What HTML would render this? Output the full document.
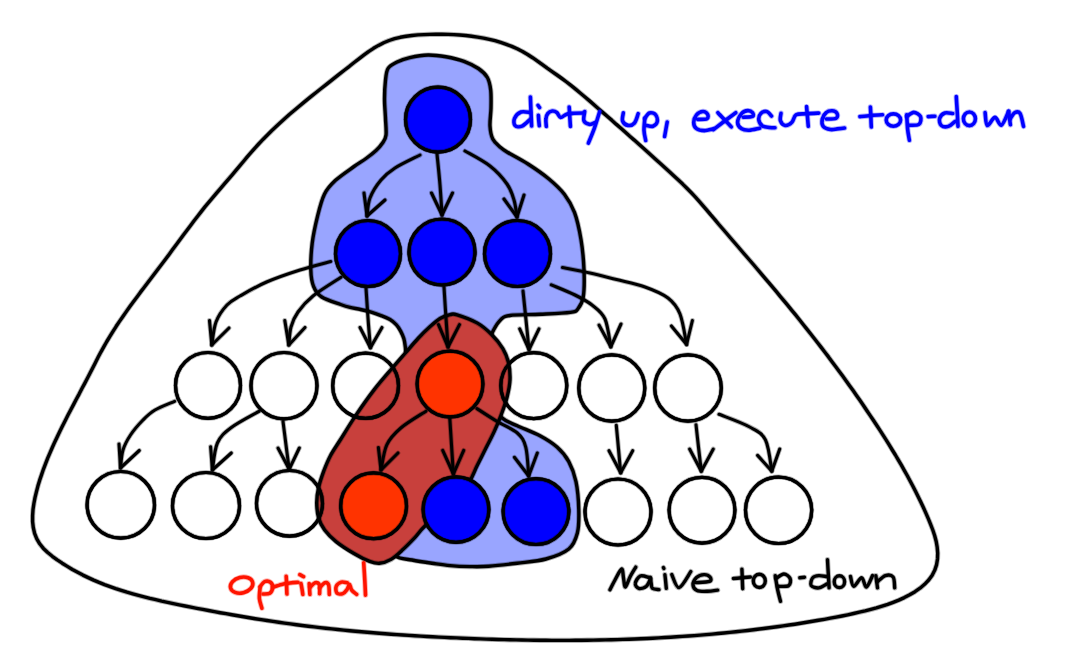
<!DOCTYPE html>
<html><head><meta charset="utf-8"><style>
html,body{margin:0;padding:0;background:#fff;width:1072px;height:664px;overflow:hidden}
svg{display:block}
.wrap{width:1072px;height:664px}
</style></head><body>
<div class="wrap">
<svg width="1072" height="664" viewBox="0 0 1072 664">
<rect width="1072" height="664" fill="#fff"/>
<path d="M429.9,34.4 L435.9,34.3 L441.9,34.3 L447.9,34.4 L453.9,34.6 L459.9,35.0 L465.8,35.5 L471.7,36.2 L477.6,37.1 L483.5,38.1 L489.3,39.3 L495.0,40.7 L500.7,42.4 L506.3,44.3 L511.8,46.4 L517.2,48.8 L522.5,51.5 L527.6,54.5 L532.6,57.7 L537.5,61.1 L542.4,64.7 L547.2,68.2 L552.1,71.6 L557.0,75.0 L561.9,78.5 L566.6,82.0 L571.3,85.7 L575.9,89.4 L580.5,93.2 L585.0,97.0 L589.6,100.9 L594.0,104.8 L598.5,108.7 L603.0,112.6 L607.5,116.5 L612.0,120.4 L616.4,124.4 L620.9,128.3 L625.4,132.2 L629.8,136.2 L634.3,140.1 L638.7,144.1 L643.2,148.1 L647.6,152.0 L652.0,156.0 L656.4,160.0 L660.9,164.0 L665.3,168.0 L669.7,172.0 L674.0,176.0 L678.4,180.0 L682.7,184.1 L686.9,188.3 L691.1,192.5 L695.2,196.8 L699.2,201.3 L703.1,205.8 L707.0,210.3 L710.8,214.9 L714.7,219.4 L718.5,224.0 L722.4,228.5 L726.3,233.0 L730.1,237.5 L734.0,242.0 L737.9,246.5 L741.7,251.0 L745.6,255.5 L749.5,260.0 L753.4,264.5 L757.2,269.0 L761.1,273.6 L764.9,278.1 L768.8,282.6 L772.6,287.1 L776.4,291.7 L780.2,296.3 L784.0,300.8 L787.8,305.4 L791.6,310.1 L795.4,314.7 L799.1,319.3 L802.8,324.0 L806.5,328.6 L810.2,333.3 L813.9,338.0 L817.6,342.7 L821.2,347.4 L824.9,352.2 L828.5,356.9 L832.0,361.7 L835.6,366.5 L839.1,371.3 L842.7,376.1 L846.2,380.9 L849.6,385.7 L853.1,390.6 L856.5,395.5 L859.9,400.3 L863.3,405.2 L866.6,410.2 L869.9,415.1 L873.2,420.0 L876.5,425.0 L879.7,429.9 L882.9,434.9 L886.1,439.9 L889.2,444.9 L892.3,450.0 L895.4,455.0 L898.4,460.1 L901.4,465.2 L904.3,470.4 L907.2,475.5 L910.0,480.8 L912.8,486.0 L915.5,491.3 L918.2,496.7 L920.8,502.1 L923.4,507.6 L925.9,513.1 L928.3,518.7 L930.6,524.3 L932.8,530.0 L934.7,535.8 L936.2,541.5 L937.2,547.3 L937.7,553.1 L937.5,558.9 L936.6,564.6 L934.8,570.1 L932.2,575.2 L928.7,580.0 L924.6,584.3 L920.0,588.2 L915.0,591.7 L909.7,594.8 L904.3,597.6 L898.8,600.1 L893.2,602.3 L887.7,604.4 L882.1,606.2 L876.4,607.9 L870.8,609.4 L865.1,610.9 L859.3,612.2 L853.6,613.5 L847.8,614.8 L842.0,616.0 L836.1,617.1 L830.3,618.2 L824.4,619.3 L818.5,620.3 L812.6,621.3 L806.7,622.3 L800.8,623.3 L794.9,624.2 L789.0,625.0 L783.1,625.9 L777.2,626.7 L771.3,627.5 L765.3,628.3 L759.4,629.0 L753.5,629.8 L747.6,630.5 L741.7,631.1 L735.8,631.8 L729.8,632.4 L723.9,633.0 L718.0,633.5 L712.1,634.1 L706.1,634.6 L700.2,635.1 L694.3,635.6 L688.4,636.0 L682.4,636.4 L676.5,636.8 L670.6,637.2 L664.6,637.5 L658.7,637.9 L652.8,638.2 L646.8,638.5 L640.9,638.7 L635.0,639.0 L629.0,639.2 L623.1,639.4 L617.1,639.6 L611.2,639.8 L605.3,639.9 L599.3,640.0 L593.4,640.1 L587.4,640.2 L581.5,640.3 L575.5,640.3 L569.6,640.4 L563.6,640.4 L557.7,640.4 L551.8,640.4 L545.8,640.3 L539.9,640.3 L533.9,640.2 L528.0,640.1 L522.0,640.0 L516.1,639.9 L510.1,639.8 L504.2,639.6 L498.2,639.5 L492.3,639.3 L486.3,639.1 L480.4,638.9 L474.4,638.7 L468.4,638.4 L462.5,638.2 L456.5,637.9 L450.6,637.7 L444.6,637.4 L438.7,637.1 L432.7,636.8 L426.8,636.5 L420.8,636.1 L414.9,635.8 L408.9,635.4 L403.0,635.0 L397.0,634.6 L391.1,634.2 L385.1,633.7 L379.2,633.3 L373.3,632.8 L367.3,632.3 L361.4,631.8 L355.5,631.3 L349.6,630.7 L343.6,630.1 L337.7,629.5 L331.8,628.9 L325.9,628.3 L320.0,627.6 L314.1,626.9 L308.2,626.2 L302.3,625.5 L296.4,624.7 L290.5,623.9 L284.6,623.1 L278.8,622.3 L272.9,621.4 L267.0,620.5 L261.2,619.6 L255.3,618.7 L249.5,617.7 L243.6,616.8 L237.8,615.8 L231.9,614.8 L226.1,613.7 L220.2,612.7 L214.4,611.6 L208.5,610.5 L202.7,609.4 L196.8,608.3 L190.9,607.1 L185.1,606.0 L179.2,604.8 L173.4,603.6 L167.5,602.3 L161.7,601.1 L155.8,599.7 L150.0,598.4 L144.2,596.9 L138.5,595.4 L132.7,593.8 L127.0,592.2 L121.3,590.4 L115.7,588.6 L110.1,586.6 L104.5,584.6 L99.0,582.4 L93.6,580.1 L88.2,577.6 L82.9,575.1 L77.6,572.3 L72.4,569.5 L67.3,566.4 L62.2,563.2 L57.2,559.9 L52.3,556.3 L47.7,552.5 L43.4,548.4 L39.7,543.8 L36.8,538.9 L34.6,533.4 L33.3,527.7 L32.6,521.7 L32.6,515.7 L33.0,509.6 L33.9,503.5 L35.0,497.6 L36.4,491.8 L37.9,486.1 L39.6,480.4 L41.5,474.9 L43.4,469.3 L45.5,463.8 L47.7,458.2 L50.0,452.8 L52.4,447.3 L54.8,441.9 L57.4,436.5 L60.0,431.1 L62.6,425.7 L65.3,420.4 L68.0,415.1 L70.8,409.8 L73.5,404.6 L76.3,399.3 L79.1,394.1 L81.8,388.8 L84.6,383.6 L87.4,378.3 L90.1,373.0 L92.8,367.8 L95.5,362.4 L98.2,357.1 L101.0,351.8 L103.9,346.6 L106.8,341.5 L109.9,336.4 L113.0,331.3 L116.2,326.3 L119.5,321.4 L122.9,316.5 L126.3,311.6 L129.7,306.8 L133.2,302.0 L136.8,297.2 L140.3,292.4 L143.9,287.7 L147.5,282.9 L151.1,278.2 L154.7,273.4 L158.3,268.7 L161.9,264.0 L165.5,259.2 L169.1,254.4 L172.6,249.6 L176.2,244.8 L179.7,240.0 L183.2,235.2 L186.8,230.5 L190.4,225.7 L193.9,221.0 L197.6,216.3 L201.2,211.6 L204.9,206.9 L208.7,202.4 L212.5,197.8 L216.3,193.3 L220.2,188.8 L224.0,184.3 L227.9,179.8 L231.8,175.3 L235.7,170.7 L239.5,166.1 L243.4,161.5 L247.2,156.9 L251.1,152.4 L255.1,147.9 L259.1,143.5 L263.2,139.2 L267.4,135.0 L271.6,130.8 L275.9,126.7 L280.2,122.7 L284.6,118.8 L289.0,114.8 L293.5,111.0 L298.0,107.2 L302.6,103.4 L307.2,99.6 L311.8,95.9 L316.4,92.2 L321.1,88.5 L325.8,84.8 L330.5,81.1 L335.2,77.4 L339.9,73.7 L344.6,70.0 L349.4,66.3 L354.1,62.5 L358.9,58.8 L363.7,55.1 L368.5,51.6 L373.5,48.3 L378.5,45.4 L383.7,42.7 L389.1,40.5 L394.6,38.7 L400.3,37.3 L406.1,36.3 L411.9,35.5 L417.9,34.9 L423.9,34.6 Z" fill="none" stroke="#000" stroke-opacity="0.3" stroke-width="5.2" stroke-linejoin="round"/>
<path d="M429.9,34.4 L435.9,34.3 L441.9,34.3 L447.9,34.4 L453.9,34.6 L459.9,35.0 L465.8,35.5 L471.7,36.2 L477.6,37.1 L483.5,38.1 L489.3,39.3 L495.0,40.7 L500.7,42.4 L506.3,44.3 L511.8,46.4 L517.2,48.8 L522.5,51.5 L527.6,54.5 L532.6,57.7 L537.5,61.1 L542.4,64.7 L547.2,68.2 L552.1,71.6 L557.0,75.0 L561.9,78.5 L566.6,82.0 L571.3,85.7 L575.9,89.4 L580.5,93.2 L585.0,97.0 L589.6,100.9 L594.0,104.8 L598.5,108.7 L603.0,112.6 L607.5,116.5 L612.0,120.4 L616.4,124.4 L620.9,128.3 L625.4,132.2 L629.8,136.2 L634.3,140.1 L638.7,144.1 L643.2,148.1 L647.6,152.0 L652.0,156.0 L656.4,160.0 L660.9,164.0 L665.3,168.0 L669.7,172.0 L674.0,176.0 L678.4,180.0 L682.7,184.1 L686.9,188.3 L691.1,192.5 L695.2,196.8 L699.2,201.3 L703.1,205.8 L707.0,210.3 L710.8,214.9 L714.7,219.4 L718.5,224.0 L722.4,228.5 L726.3,233.0 L730.1,237.5 L734.0,242.0 L737.9,246.5 L741.7,251.0 L745.6,255.5 L749.5,260.0 L753.4,264.5 L757.2,269.0 L761.1,273.6 L764.9,278.1 L768.8,282.6 L772.6,287.1 L776.4,291.7 L780.2,296.3 L784.0,300.8 L787.8,305.4 L791.6,310.1 L795.4,314.7 L799.1,319.3 L802.8,324.0 L806.5,328.6 L810.2,333.3 L813.9,338.0 L817.6,342.7 L821.2,347.4 L824.9,352.2 L828.5,356.9 L832.0,361.7 L835.6,366.5 L839.1,371.3 L842.7,376.1 L846.2,380.9 L849.6,385.7 L853.1,390.6 L856.5,395.5 L859.9,400.3 L863.3,405.2 L866.6,410.2 L869.9,415.1 L873.2,420.0 L876.5,425.0 L879.7,429.9 L882.9,434.9 L886.1,439.9 L889.2,444.9 L892.3,450.0 L895.4,455.0 L898.4,460.1 L901.4,465.2 L904.3,470.4 L907.2,475.5 L910.0,480.8 L912.8,486.0 L915.5,491.3 L918.2,496.7 L920.8,502.1 L923.4,507.6 L925.9,513.1 L928.3,518.7 L930.6,524.3 L932.8,530.0 L934.7,535.8 L936.2,541.5 L937.2,547.3 L937.7,553.1 L937.5,558.9 L936.6,564.6 L934.8,570.1 L932.2,575.2 L928.7,580.0 L924.6,584.3 L920.0,588.2 L915.0,591.7 L909.7,594.8 L904.3,597.6 L898.8,600.1 L893.2,602.3 L887.7,604.4 L882.1,606.2 L876.4,607.9 L870.8,609.4 L865.1,610.9 L859.3,612.2 L853.6,613.5 L847.8,614.8 L842.0,616.0 L836.1,617.1 L830.3,618.2 L824.4,619.3 L818.5,620.3 L812.6,621.3 L806.7,622.3 L800.8,623.3 L794.9,624.2 L789.0,625.0 L783.1,625.9 L777.2,626.7 L771.3,627.5 L765.3,628.3 L759.4,629.0 L753.5,629.8 L747.6,630.5 L741.7,631.1 L735.8,631.8 L729.8,632.4 L723.9,633.0 L718.0,633.5 L712.1,634.1 L706.1,634.6 L700.2,635.1 L694.3,635.6 L688.4,636.0 L682.4,636.4 L676.5,636.8 L670.6,637.2 L664.6,637.5 L658.7,637.9 L652.8,638.2 L646.8,638.5 L640.9,638.7 L635.0,639.0 L629.0,639.2 L623.1,639.4 L617.1,639.6 L611.2,639.8 L605.3,639.9 L599.3,640.0 L593.4,640.1 L587.4,640.2 L581.5,640.3 L575.5,640.3 L569.6,640.4 L563.6,640.4 L557.7,640.4 L551.8,640.4 L545.8,640.3 L539.9,640.3 L533.9,640.2 L528.0,640.1 L522.0,640.0 L516.1,639.9 L510.1,639.8 L504.2,639.6 L498.2,639.5 L492.3,639.3 L486.3,639.1 L480.4,638.9 L474.4,638.7 L468.4,638.4 L462.5,638.2 L456.5,637.9 L450.6,637.7 L444.6,637.4 L438.7,637.1 L432.7,636.8 L426.8,636.5 L420.8,636.1 L414.9,635.8 L408.9,635.4 L403.0,635.0 L397.0,634.6 L391.1,634.2 L385.1,633.7 L379.2,633.3 L373.3,632.8 L367.3,632.3 L361.4,631.8 L355.5,631.3 L349.6,630.7 L343.6,630.1 L337.7,629.5 L331.8,628.9 L325.9,628.3 L320.0,627.6 L314.1,626.9 L308.2,626.2 L302.3,625.5 L296.4,624.7 L290.5,623.9 L284.6,623.1 L278.8,622.3 L272.9,621.4 L267.0,620.5 L261.2,619.6 L255.3,618.7 L249.5,617.7 L243.6,616.8 L237.8,615.8 L231.9,614.8 L226.1,613.7 L220.2,612.7 L214.4,611.6 L208.5,610.5 L202.7,609.4 L196.8,608.3 L190.9,607.1 L185.1,606.0 L179.2,604.8 L173.4,603.6 L167.5,602.3 L161.7,601.1 L155.8,599.7 L150.0,598.4 L144.2,596.9 L138.5,595.4 L132.7,593.8 L127.0,592.2 L121.3,590.4 L115.7,588.6 L110.1,586.6 L104.5,584.6 L99.0,582.4 L93.6,580.1 L88.2,577.6 L82.9,575.1 L77.6,572.3 L72.4,569.5 L67.3,566.4 L62.2,563.2 L57.2,559.9 L52.3,556.3 L47.7,552.5 L43.4,548.4 L39.7,543.8 L36.8,538.9 L34.6,533.4 L33.3,527.7 L32.6,521.7 L32.6,515.7 L33.0,509.6 L33.9,503.5 L35.0,497.6 L36.4,491.8 L37.9,486.1 L39.6,480.4 L41.5,474.9 L43.4,469.3 L45.5,463.8 L47.7,458.2 L50.0,452.8 L52.4,447.3 L54.8,441.9 L57.4,436.5 L60.0,431.1 L62.6,425.7 L65.3,420.4 L68.0,415.1 L70.8,409.8 L73.5,404.6 L76.3,399.3 L79.1,394.1 L81.8,388.8 L84.6,383.6 L87.4,378.3 L90.1,373.0 L92.8,367.8 L95.5,362.4 L98.2,357.1 L101.0,351.8 L103.9,346.6 L106.8,341.5 L109.9,336.4 L113.0,331.3 L116.2,326.3 L119.5,321.4 L122.9,316.5 L126.3,311.6 L129.7,306.8 L133.2,302.0 L136.8,297.2 L140.3,292.4 L143.9,287.7 L147.5,282.9 L151.1,278.2 L154.7,273.4 L158.3,268.7 L161.9,264.0 L165.5,259.2 L169.1,254.4 L172.6,249.6 L176.2,244.8 L179.7,240.0 L183.2,235.2 L186.8,230.5 L190.4,225.7 L193.9,221.0 L197.6,216.3 L201.2,211.6 L204.9,206.9 L208.7,202.4 L212.5,197.8 L216.3,193.3 L220.2,188.8 L224.0,184.3 L227.9,179.8 L231.8,175.3 L235.7,170.7 L239.5,166.1 L243.4,161.5 L247.2,156.9 L251.1,152.4 L255.1,147.9 L259.1,143.5 L263.2,139.2 L267.4,135.0 L271.6,130.8 L275.9,126.7 L280.2,122.7 L284.6,118.8 L289.0,114.8 L293.5,111.0 L298.0,107.2 L302.6,103.4 L307.2,99.6 L311.8,95.9 L316.4,92.2 L321.1,88.5 L325.8,84.8 L330.5,81.1 L335.2,77.4 L339.9,73.7 L344.6,70.0 L349.4,66.3 L354.1,62.5 L358.9,58.8 L363.7,55.1 L368.5,51.6 L373.5,48.3 L378.5,45.4 L383.7,42.7 L389.1,40.5 L394.6,38.7 L400.3,37.3 L406.1,36.3 L411.9,35.5 L417.9,34.9 L423.9,34.6 Z" fill="none" stroke="#000" stroke-width="3.4" stroke-linejoin="round"/>
<path d="M428.0,55.0 C434.1,54.9 440.0,55.7 446.0,56.7 C452.0,57.8 458.6,59.3 464.0,61.3 C469.4,63.3 474.5,65.8 478.4,68.5 C482.3,71.2 485.3,73.9 487.4,77.5 C489.4,81.1 490.1,84.9 490.7,90.0 C491.3,95.1 491.1,102.0 491.0,108.0 C490.9,114.0 489.7,120.8 490.0,126.0 C490.3,131.2 491.1,135.5 492.8,139.0 C494.5,142.5 497.6,144.8 500.0,147.0 C502.4,149.2 502.3,149.2 507.0,152.0 C511.7,154.8 521.0,159.5 528.0,164.0 C535.0,168.5 542.9,173.9 549.0,179.0 C555.1,184.1 560.1,188.7 564.4,194.3 C568.6,199.9 571.7,204.9 574.5,212.4 C577.3,219.9 579.4,230.0 581.0,239.5 C582.6,249.0 583.6,260.1 584.0,269.6 C584.4,279.2 584.3,290.3 583.3,296.8 C582.3,303.3 580.1,306.2 578.0,308.8 C575.9,311.4 576.7,311.5 570.4,312.4 C564.1,313.3 550.4,313.8 540.3,314.3 C530.2,314.8 516.5,314.6 510.0,315.5 C503.4,316.4 503.7,317.0 501.0,319.4 C498.3,321.8 495.4,326.6 493.6,330.0 C491.9,333.4 491.4,333.3 490.5,340.0 C489.6,346.7 487.8,359.2 488.0,370.0 C488.2,380.8 489.5,396.9 492.0,405.0 C494.5,413.1 498.8,415.1 503.0,418.6 C507.2,422.1 511.1,422.9 517.3,425.8 C523.5,428.7 533.3,432.2 540.0,435.8 C546.7,439.4 552.5,443.0 557.3,447.3 C562.1,451.6 565.7,455.9 568.8,461.6 C571.9,467.3 574.3,473.5 576.0,481.6 C577.7,489.7 578.6,501.6 578.8,510.2 C579.0,518.8 579.1,526.5 577.4,533.0 C575.7,539.5 574.0,544.7 568.8,549.0 C563.6,553.3 554.6,556.6 546.0,559.0 C537.4,561.4 526.9,562.0 517.3,563.2 C507.7,564.4 496.5,565.7 488.6,566.3 C480.7,566.9 476.1,566.7 469.7,566.6 C463.3,566.5 456.3,566.2 450.0,565.6 C443.7,565.0 438.3,564.1 432.0,563.2 C425.7,562.3 418.0,561.2 412.0,560.0 C406.0,558.8 399.3,559.3 396.0,556.0 C392.7,552.7 392.2,546.0 392.0,540.0 C391.8,534.0 392.0,533.3 395.0,520.0 C398.0,506.7 406.7,480.0 410.0,460.0 C413.3,440.0 415.2,415.0 415.0,400.0 C414.8,385.0 410.5,377.5 409.0,370.0 C407.5,362.5 406.6,358.9 406.0,355.0 C405.4,351.1 405.7,349.6 405.3,346.9 C404.9,344.1 404.6,341.1 403.8,338.5 C403.0,335.9 401.8,333.4 400.6,331.1 C399.4,328.8 398.2,326.7 396.4,324.8 C394.6,322.9 392.5,321.0 390.0,319.5 C387.5,318.0 384.8,317.0 381.6,315.8 C378.5,314.6 374.6,313.2 371.1,312.1 C367.6,311.1 364.0,310.3 360.5,309.5 C357.0,308.7 353.3,308.2 350.0,307.4 C346.7,306.6 345.3,306.2 340.6,304.5 C335.9,302.8 326.2,300.0 321.7,297.0 C317.2,294.0 315.3,290.8 313.5,286.3 C311.7,281.8 311.0,277.2 310.8,270.0 C310.6,262.8 311.1,252.0 312.2,243.0 C313.3,234.0 315.6,223.9 317.6,215.8 C319.6,207.7 321.5,200.1 324.4,194.2 C327.3,188.3 330.3,185.2 335.2,180.6 C340.1,176.0 348.9,170.2 354.0,166.5 C359.1,162.8 362.3,161.2 366.0,158.5 C369.7,155.8 373.2,153.1 376.0,150.5 C378.8,147.9 380.8,145.6 382.5,143.0 C384.2,140.4 385.5,139.3 386.0,135.0 C386.5,130.7 385.6,123.0 385.4,117.0 C385.1,111.0 384.5,105.0 384.5,99.0 C384.5,93.0 384.8,86.1 385.4,81.0 C386.0,75.9 386.1,71.7 388.0,68.5 C389.9,65.3 393.4,63.8 397.0,62.0 C400.6,60.2 404.5,58.8 409.7,57.6 C414.9,56.4 421.9,55.1 428.0,55.0 Z" fill="#99a5ff"/>
<path d="M428.0,55.0 C434.1,54.9 440.0,55.7 446.0,56.7 C452.0,57.8 458.6,59.3 464.0,61.3 C469.4,63.3 474.5,65.8 478.4,68.5 C482.3,71.2 485.3,73.9 487.4,77.5 C489.4,81.1 490.1,84.9 490.7,90.0 C491.3,95.1 491.1,102.0 491.0,108.0 C490.9,114.0 489.7,120.8 490.0,126.0 C490.3,131.2 491.1,135.5 492.8,139.0 C494.5,142.5 497.6,144.8 500.0,147.0 C502.4,149.2 502.3,149.2 507.0,152.0 C511.7,154.8 521.0,159.5 528.0,164.0 C535.0,168.5 542.9,173.9 549.0,179.0 C555.1,184.1 560.1,188.7 564.4,194.3 C568.6,199.9 571.7,204.9 574.5,212.4 C577.3,219.9 579.4,230.0 581.0,239.5 C582.6,249.0 583.6,260.1 584.0,269.6 C584.4,279.2 584.3,290.3 583.3,296.8 C582.3,303.3 580.1,306.2 578.0,308.8 C575.9,311.4 576.7,311.5 570.4,312.4 C564.1,313.3 550.4,313.8 540.3,314.3 C530.2,314.8 516.5,314.6 510.0,315.5 C503.4,316.4 503.7,317.0 501.0,319.4 C498.3,321.8 495.4,326.6 493.6,330.0 C491.9,333.4 491.4,333.3 490.5,340.0 C489.6,346.7 487.8,359.2 488.0,370.0 C488.2,380.8 489.5,396.9 492.0,405.0 C494.5,413.1 498.8,415.1 503.0,418.6 C507.2,422.1 511.1,422.9 517.3,425.8 C523.5,428.7 533.3,432.2 540.0,435.8 C546.7,439.4 552.5,443.0 557.3,447.3 C562.1,451.6 565.7,455.9 568.8,461.6 C571.9,467.3 574.3,473.5 576.0,481.6 C577.7,489.7 578.6,501.6 578.8,510.2 C579.0,518.8 579.1,526.5 577.4,533.0 C575.7,539.5 574.0,544.7 568.8,549.0 C563.6,553.3 554.6,556.6 546.0,559.0 C537.4,561.4 526.9,562.0 517.3,563.2 C507.7,564.4 496.5,565.7 488.6,566.3 C480.7,566.9 476.1,566.7 469.7,566.6 C463.3,566.5 456.3,566.2 450.0,565.6 C443.7,565.0 438.3,564.1 432.0,563.2 C425.7,562.3 418.0,561.2 412.0,560.0 C406.0,558.8 399.3,559.3 396.0,556.0 C392.7,552.7 392.2,546.0 392.0,540.0 C391.8,534.0 392.0,533.3 395.0,520.0 C398.0,506.7 406.7,480.0 410.0,460.0 C413.3,440.0 415.2,415.0 415.0,400.0 C414.8,385.0 410.5,377.5 409.0,370.0 C407.5,362.5 406.6,358.9 406.0,355.0 C405.4,351.1 405.7,349.6 405.3,346.9 C404.9,344.1 404.6,341.1 403.8,338.5 C403.0,335.9 401.8,333.4 400.6,331.1 C399.4,328.8 398.2,326.7 396.4,324.8 C394.6,322.9 392.5,321.0 390.0,319.5 C387.5,318.0 384.8,317.0 381.6,315.8 C378.5,314.6 374.6,313.2 371.1,312.1 C367.6,311.1 364.0,310.3 360.5,309.5 C357.0,308.7 353.3,308.2 350.0,307.4 C346.7,306.6 345.3,306.2 340.6,304.5 C335.9,302.8 326.2,300.0 321.7,297.0 C317.2,294.0 315.3,290.8 313.5,286.3 C311.7,281.8 311.0,277.2 310.8,270.0 C310.6,262.8 311.1,252.0 312.2,243.0 C313.3,234.0 315.6,223.9 317.6,215.8 C319.6,207.7 321.5,200.1 324.4,194.2 C327.3,188.3 330.3,185.2 335.2,180.6 C340.1,176.0 348.9,170.2 354.0,166.5 C359.1,162.8 362.3,161.2 366.0,158.5 C369.7,155.8 373.2,153.1 376.0,150.5 C378.8,147.9 380.8,145.6 382.5,143.0 C384.2,140.4 385.5,139.3 386.0,135.0 C386.5,130.7 385.6,123.0 385.4,117.0 C385.1,111.0 384.5,105.0 384.5,99.0 C384.5,93.0 384.8,86.1 385.4,81.0 C386.0,75.9 386.1,71.7 388.0,68.5 C389.9,65.3 393.4,63.8 397.0,62.0 C400.6,60.2 404.5,58.8 409.7,57.6 C414.9,56.4 421.9,55.1 428.0,55.0 Z" fill="none" stroke="#000" stroke-opacity="0.3" stroke-width="5.2" stroke-linejoin="round"/>
<path d="M428.0,55.0 C434.1,54.9 440.0,55.7 446.0,56.7 C452.0,57.8 458.6,59.3 464.0,61.3 C469.4,63.3 474.5,65.8 478.4,68.5 C482.3,71.2 485.3,73.9 487.4,77.5 C489.4,81.1 490.1,84.9 490.7,90.0 C491.3,95.1 491.1,102.0 491.0,108.0 C490.9,114.0 489.7,120.8 490.0,126.0 C490.3,131.2 491.1,135.5 492.8,139.0 C494.5,142.5 497.6,144.8 500.0,147.0 C502.4,149.2 502.3,149.2 507.0,152.0 C511.7,154.8 521.0,159.5 528.0,164.0 C535.0,168.5 542.9,173.9 549.0,179.0 C555.1,184.1 560.1,188.7 564.4,194.3 C568.6,199.9 571.7,204.9 574.5,212.4 C577.3,219.9 579.4,230.0 581.0,239.5 C582.6,249.0 583.6,260.1 584.0,269.6 C584.4,279.2 584.3,290.3 583.3,296.8 C582.3,303.3 580.1,306.2 578.0,308.8 C575.9,311.4 576.7,311.5 570.4,312.4 C564.1,313.3 550.4,313.8 540.3,314.3 C530.2,314.8 516.5,314.6 510.0,315.5 C503.4,316.4 503.7,317.0 501.0,319.4 C498.3,321.8 495.4,326.6 493.6,330.0 C491.9,333.4 491.4,333.3 490.5,340.0 C489.6,346.7 487.8,359.2 488.0,370.0 C488.2,380.8 489.5,396.9 492.0,405.0 C494.5,413.1 498.8,415.1 503.0,418.6 C507.2,422.1 511.1,422.9 517.3,425.8 C523.5,428.7 533.3,432.2 540.0,435.8 C546.7,439.4 552.5,443.0 557.3,447.3 C562.1,451.6 565.7,455.9 568.8,461.6 C571.9,467.3 574.3,473.5 576.0,481.6 C577.7,489.7 578.6,501.6 578.8,510.2 C579.0,518.8 579.1,526.5 577.4,533.0 C575.7,539.5 574.0,544.7 568.8,549.0 C563.6,553.3 554.6,556.6 546.0,559.0 C537.4,561.4 526.9,562.0 517.3,563.2 C507.7,564.4 496.5,565.7 488.6,566.3 C480.7,566.9 476.1,566.7 469.7,566.6 C463.3,566.5 456.3,566.2 450.0,565.6 C443.7,565.0 438.3,564.1 432.0,563.2 C425.7,562.3 418.0,561.2 412.0,560.0 C406.0,558.8 399.3,559.3 396.0,556.0 C392.7,552.7 392.2,546.0 392.0,540.0 C391.8,534.0 392.0,533.3 395.0,520.0 C398.0,506.7 406.7,480.0 410.0,460.0 C413.3,440.0 415.2,415.0 415.0,400.0 C414.8,385.0 410.5,377.5 409.0,370.0 C407.5,362.5 406.6,358.9 406.0,355.0 C405.4,351.1 405.7,349.6 405.3,346.9 C404.9,344.1 404.6,341.1 403.8,338.5 C403.0,335.9 401.8,333.4 400.6,331.1 C399.4,328.8 398.2,326.7 396.4,324.8 C394.6,322.9 392.5,321.0 390.0,319.5 C387.5,318.0 384.8,317.0 381.6,315.8 C378.5,314.6 374.6,313.2 371.1,312.1 C367.6,311.1 364.0,310.3 360.5,309.5 C357.0,308.7 353.3,308.2 350.0,307.4 C346.7,306.6 345.3,306.2 340.6,304.5 C335.9,302.8 326.2,300.0 321.7,297.0 C317.2,294.0 315.3,290.8 313.5,286.3 C311.7,281.8 311.0,277.2 310.8,270.0 C310.6,262.8 311.1,252.0 312.2,243.0 C313.3,234.0 315.6,223.9 317.6,215.8 C319.6,207.7 321.5,200.1 324.4,194.2 C327.3,188.3 330.3,185.2 335.2,180.6 C340.1,176.0 348.9,170.2 354.0,166.5 C359.1,162.8 362.3,161.2 366.0,158.5 C369.7,155.8 373.2,153.1 376.0,150.5 C378.8,147.9 380.8,145.6 382.5,143.0 C384.2,140.4 385.5,139.3 386.0,135.0 C386.5,130.7 385.6,123.0 385.4,117.0 C385.1,111.0 384.5,105.0 384.5,99.0 C384.5,93.0 384.8,86.1 385.4,81.0 C386.0,75.9 386.1,71.7 388.0,68.5 C389.9,65.3 393.4,63.8 397.0,62.0 C400.6,60.2 404.5,58.8 409.7,57.6 C414.9,56.4 421.9,55.1 428.0,55.0 Z" fill="none" stroke="#000" stroke-width="3.4" stroke-linejoin="round"/>
<path d="M450.1,314.6 C453.0,314.0 452.6,313.4 457.1,314.8 C461.6,316.2 471.4,319.6 477.1,322.9 C482.8,326.1 487.1,330.0 491.4,334.3 C495.7,338.6 500.0,343.8 502.9,348.6 C505.8,353.4 507.4,357.7 508.6,362.9 C509.8,368.1 510.2,374.3 510.0,380.0 C509.8,385.7 508.5,391.4 507.1,397.1 C505.7,402.8 503.5,408.6 501.4,414.3 C499.3,420.0 496.9,425.7 494.3,431.4 C491.7,437.1 488.6,442.9 485.7,448.6 C482.8,454.3 480.0,460.0 477.1,465.7 C474.2,471.4 473.1,476.3 468.6,482.9 C464.1,489.4 457.3,497.8 450.0,505.0 C442.7,512.2 430.9,520.6 425.0,526.1 C419.1,531.6 418.3,534.0 414.6,537.9 C410.9,541.8 406.8,546.0 402.9,549.6 C399.0,553.2 395.0,557.1 391.1,559.4 C387.2,561.7 383.0,563.0 379.4,563.3 C375.8,563.6 373.9,563.0 369.6,561.4 C365.4,559.8 359.4,556.8 353.9,553.5 C348.3,550.2 341.2,545.7 336.3,541.8 C331.4,537.9 327.5,533.9 324.6,530.0 C321.7,526.1 320.0,522.9 318.7,518.3 C317.4,513.7 316.7,507.8 316.7,502.6 C316.7,497.4 317.5,492.2 318.7,487.0 C319.9,481.8 321.7,476.5 323.6,471.3 C325.6,466.1 327.6,460.9 330.4,455.7 C333.2,450.5 335.9,446.8 340.2,440.0 C344.5,433.2 350.4,423.3 356.1,414.9 C361.8,406.5 368.2,397.4 374.2,389.6 C380.2,381.8 387.2,374.0 392.3,368.0 C397.4,362.0 400.6,358.4 404.9,353.5 C409.2,348.6 413.9,342.9 418.0,338.5 C422.1,334.1 425.6,330.6 429.3,327.3 C433.0,324.0 436.5,320.6 440.0,318.5 C443.5,316.4 447.2,315.2 450.1,314.6 Z" fill="#c8403c"/>
<path d="M450.1,314.6 C453.0,314.0 452.6,313.4 457.1,314.8 C461.6,316.2 471.4,319.6 477.1,322.9 C482.8,326.1 487.1,330.0 491.4,334.3 C495.7,338.6 500.0,343.8 502.9,348.6 C505.8,353.4 507.4,357.7 508.6,362.9 C509.8,368.1 510.2,374.3 510.0,380.0 C509.8,385.7 508.5,391.4 507.1,397.1 C505.7,402.8 503.5,408.6 501.4,414.3 C499.3,420.0 496.9,425.7 494.3,431.4 C491.7,437.1 488.6,442.9 485.7,448.6 C482.8,454.3 480.0,460.0 477.1,465.7 C474.2,471.4 473.1,476.3 468.6,482.9 C464.1,489.4 457.3,497.8 450.0,505.0 C442.7,512.2 430.9,520.6 425.0,526.1 C419.1,531.6 418.3,534.0 414.6,537.9 C410.9,541.8 406.8,546.0 402.9,549.6 C399.0,553.2 395.0,557.1 391.1,559.4 C387.2,561.7 383.0,563.0 379.4,563.3 C375.8,563.6 373.9,563.0 369.6,561.4 C365.4,559.8 359.4,556.8 353.9,553.5 C348.3,550.2 341.2,545.7 336.3,541.8 C331.4,537.9 327.5,533.9 324.6,530.0 C321.7,526.1 320.0,522.9 318.7,518.3 C317.4,513.7 316.7,507.8 316.7,502.6 C316.7,497.4 317.5,492.2 318.7,487.0 C319.9,481.8 321.7,476.5 323.6,471.3 C325.6,466.1 327.6,460.9 330.4,455.7 C333.2,450.5 335.9,446.8 340.2,440.0 C344.5,433.2 350.4,423.3 356.1,414.9 C361.8,406.5 368.2,397.4 374.2,389.6 C380.2,381.8 387.2,374.0 392.3,368.0 C397.4,362.0 400.6,358.4 404.9,353.5 C409.2,348.6 413.9,342.9 418.0,338.5 C422.1,334.1 425.6,330.6 429.3,327.3 C433.0,324.0 436.5,320.6 440.0,318.5 C443.5,316.4 447.2,315.2 450.1,314.6 Z" fill="none" stroke="#000" stroke-opacity="0.3" stroke-width="5.2" stroke-linejoin="round"/>
<path d="M450.1,314.6 C453.0,314.0 452.6,313.4 457.1,314.8 C461.6,316.2 471.4,319.6 477.1,322.9 C482.8,326.1 487.1,330.0 491.4,334.3 C495.7,338.6 500.0,343.8 502.9,348.6 C505.8,353.4 507.4,357.7 508.6,362.9 C509.8,368.1 510.2,374.3 510.0,380.0 C509.8,385.7 508.5,391.4 507.1,397.1 C505.7,402.8 503.5,408.6 501.4,414.3 C499.3,420.0 496.9,425.7 494.3,431.4 C491.7,437.1 488.6,442.9 485.7,448.6 C482.8,454.3 480.0,460.0 477.1,465.7 C474.2,471.4 473.1,476.3 468.6,482.9 C464.1,489.4 457.3,497.8 450.0,505.0 C442.7,512.2 430.9,520.6 425.0,526.1 C419.1,531.6 418.3,534.0 414.6,537.9 C410.9,541.8 406.8,546.0 402.9,549.6 C399.0,553.2 395.0,557.1 391.1,559.4 C387.2,561.7 383.0,563.0 379.4,563.3 C375.8,563.6 373.9,563.0 369.6,561.4 C365.4,559.8 359.4,556.8 353.9,553.5 C348.3,550.2 341.2,545.7 336.3,541.8 C331.4,537.9 327.5,533.9 324.6,530.0 C321.7,526.1 320.0,522.9 318.7,518.3 C317.4,513.7 316.7,507.8 316.7,502.6 C316.7,497.4 317.5,492.2 318.7,487.0 C319.9,481.8 321.7,476.5 323.6,471.3 C325.6,466.1 327.6,460.9 330.4,455.7 C333.2,450.5 335.9,446.8 340.2,440.0 C344.5,433.2 350.4,423.3 356.1,414.9 C361.8,406.5 368.2,397.4 374.2,389.6 C380.2,381.8 387.2,374.0 392.3,368.0 C397.4,362.0 400.6,358.4 404.9,353.5 C409.2,348.6 413.9,342.9 418.0,338.5 C422.1,334.1 425.6,330.6 429.3,327.3 C433.0,324.0 436.5,320.6 440.0,318.5 C443.5,316.4 447.2,315.2 450.1,314.6 Z" fill="none" stroke="#000" stroke-width="3.4" stroke-linejoin="round"/>
<g fill="none" stroke="#000" stroke-opacity="0.3" stroke-width="4.9" stroke-linecap="round" stroke-linejoin="round"><path d="M420.0,155.0 C415.8,157.2 401.5,163.8 395.0,168.0 C388.5,172.2 385.2,175.0 381.0,180.0 C376.8,185.0 372.3,192.0 370.0,198.0 C367.7,204.0 367.5,213.0 367.0,216.0"/><path d="M364.0,193.0 L367.0,216.0 L385.0,200.0"/>
<path d="M437.0,154.0 C437.5,159.2 439.2,174.8 440.0,185.0 C440.8,195.2 441.7,210.0 442.0,215.0"/><path d="M431.5,193.0 L442.0,215.0 L452.5,193.0"/>
<path d="M465.0,151.0 C469.2,153.5 483.0,160.5 490.0,166.0 C497.0,171.5 503.0,178.3 507.0,184.0 C511.0,189.7 512.3,194.5 514.0,200.0 C515.7,205.5 516.5,214.2 517.0,217.0"/><path d="M504.0,199.0 L517.0,217.0 L524.0,195.0"/>
<path d="M330.7,261.5 C325.6,262.9 310.7,266.6 300.0,270.0 C289.3,273.4 276.6,277.7 266.6,282.0 C256.6,286.3 246.6,292.2 240.0,296.0 C233.4,299.8 231.0,300.7 227.0,305.0 C223.0,309.3 218.5,315.3 216.0,322.0 C213.5,328.7 212.5,341.2 211.8,345.0"/><path d="M209.5,320.5 L211.8,345.0 L229.0,328.0"/>
<path d="M341.0,277.3 C336.3,280.4 320.2,290.2 313.0,296.0 C305.8,301.8 301.7,306.8 298.0,312.0 C294.3,317.2 292.5,321.5 291.0,327.0 C289.5,332.5 289.2,342.0 288.8,345.0"/><path d="M284.8,320.5 L288.8,345.0 L305.0,327.5"/>
<path d="M366.0,288.0 C366.3,293.0 367.3,308.1 368.0,318.0 C368.7,327.9 370.0,342.8 370.4,347.7"/><path d="M360.0,327.5 L370.4,347.7 L382.0,327.5"/>
<path d="M444.0,287.0 C444.3,292.2 445.3,308.0 446.0,318.0 C446.7,328.0 447.7,342.2 448.0,347.0"/><path d="M438.5,324.6 L448.0,347.0 L459.5,324.6"/>
<path d="M523.0,291.0 C523.5,295.8 525.0,310.2 526.0,320.0 C527.0,329.8 528.5,344.7 529.0,349.6"/><path d="M519.7,328.8 L529.0,349.6 L539.0,328.8"/>
<path d="M551.3,284.8 C555.2,286.5 568.2,291.6 575.0,295.0 C581.8,298.4 587.0,301.0 592.0,305.0 C597.0,309.0 601.9,312.0 605.0,319.0 C608.1,326.0 609.8,342.2 610.8,346.8"/><path d="M599.0,325.0 L610.8,346.8 L621.0,324.0"/>
<path d="M562.5,267.5 C567.1,268.4 581.0,271.0 590.0,273.0 C599.0,275.0 607.4,277.3 616.6,279.6 C625.8,281.9 636.4,283.9 645.0,287.0 C653.6,290.1 662.2,293.5 668.0,298.0 C673.8,302.5 676.9,306.2 680.0,314.0 C683.1,321.8 685.5,339.4 686.6,344.5"/><path d="M671.4,326.0 L686.6,344.5 L692.4,320.5"/>
<path d="M174.6,401.3 C171.3,402.8 160.3,406.9 155.0,410.0 C149.7,413.1 147.1,415.8 143.0,420.0 C138.9,424.2 133.8,430.0 130.5,435.0 C127.2,440.0 124.7,444.5 123.0,450.0 C121.3,455.5 120.9,465.0 120.5,468.0"/><path d="M119.0,444.0 L120.5,468.0 L139.3,450.5"/>
<path d="M259.0,411.4 C254.3,414.1 237.9,422.5 231.0,427.8 C224.1,433.1 220.5,436.0 217.4,443.0 C214.3,450.0 213.2,465.5 212.4,470.0"/><path d="M210.6,446.7 L212.4,470.0 L231.3,453.0"/>
<path d="M283.0,421.5 C283.5,425.4 285.0,437.0 286.0,445.0 C287.0,453.0 288.7,465.2 289.2,469.3"/><path d="M278.0,448.0 L289.2,469.3 L299.3,448.0"/>
<path d="M426.0,411.2 C421.8,414.0 407.3,422.4 400.8,428.0 C394.3,433.6 390.1,437.8 386.8,444.8 C383.5,451.8 382.0,465.8 381.0,470.0"/><path d="M378.4,447.6 L381.0,470.0 L398.0,453.0"/>
<path d="M449.7,416.8 C450.0,421.5 450.9,435.5 451.5,445.0 C452.1,454.5 453.1,469.2 453.4,474.0"/><path d="M442.7,450.4 L453.4,474.0 L463.7,450.4"/>
<path d="M477.0,408.6 C480.4,410.8 490.5,417.4 497.2,421.5 C503.9,425.6 512.5,428.7 517.3,433.0 C522.1,437.3 523.9,440.1 525.8,447.3 C527.7,454.5 528.2,471.2 528.7,476.0"/><path d="M514.4,457.3 L528.7,476.0 L537.3,453.0"/>
<path d="M616.3,425.4 C616.7,429.3 617.8,441.1 618.5,449.0 C619.2,456.9 620.3,468.8 620.7,472.8"/><path d="M609.0,450.7 L620.7,472.8 L632.7,450.7"/>
<path d="M696.0,424.7 C696.4,428.6 697.7,440.2 698.6,448.0 C699.5,455.8 700.8,467.3 701.3,471.2"/><path d="M689.6,449.0 L701.3,471.2 L713.3,449.0"/>
<path d="M719.0,414.3 C724.1,416.4 742.0,422.7 749.7,427.0 C757.5,431.3 761.8,432.6 765.5,440.0 C769.2,447.4 770.8,466.0 771.8,471.2"/><path d="M757.6,455.4 L771.8,471.2 L779.7,449.0"/></g>
<g fill="none" stroke="#000" stroke-width="3.1" stroke-linecap="round" stroke-linejoin="round"><path d="M420.0,155.0 C415.8,157.2 401.5,163.8 395.0,168.0 C388.5,172.2 385.2,175.0 381.0,180.0 C376.8,185.0 372.3,192.0 370.0,198.0 C367.7,204.0 367.5,213.0 367.0,216.0"/><path d="M364.0,193.0 L367.0,216.0 L385.0,200.0"/>
<path d="M437.0,154.0 C437.5,159.2 439.2,174.8 440.0,185.0 C440.8,195.2 441.7,210.0 442.0,215.0"/><path d="M431.5,193.0 L442.0,215.0 L452.5,193.0"/>
<path d="M465.0,151.0 C469.2,153.5 483.0,160.5 490.0,166.0 C497.0,171.5 503.0,178.3 507.0,184.0 C511.0,189.7 512.3,194.5 514.0,200.0 C515.7,205.5 516.5,214.2 517.0,217.0"/><path d="M504.0,199.0 L517.0,217.0 L524.0,195.0"/>
<path d="M330.7,261.5 C325.6,262.9 310.7,266.6 300.0,270.0 C289.3,273.4 276.6,277.7 266.6,282.0 C256.6,286.3 246.6,292.2 240.0,296.0 C233.4,299.8 231.0,300.7 227.0,305.0 C223.0,309.3 218.5,315.3 216.0,322.0 C213.5,328.7 212.5,341.2 211.8,345.0"/><path d="M209.5,320.5 L211.8,345.0 L229.0,328.0"/>
<path d="M341.0,277.3 C336.3,280.4 320.2,290.2 313.0,296.0 C305.8,301.8 301.7,306.8 298.0,312.0 C294.3,317.2 292.5,321.5 291.0,327.0 C289.5,332.5 289.2,342.0 288.8,345.0"/><path d="M284.8,320.5 L288.8,345.0 L305.0,327.5"/>
<path d="M366.0,288.0 C366.3,293.0 367.3,308.1 368.0,318.0 C368.7,327.9 370.0,342.8 370.4,347.7"/><path d="M360.0,327.5 L370.4,347.7 L382.0,327.5"/>
<path d="M444.0,287.0 C444.3,292.2 445.3,308.0 446.0,318.0 C446.7,328.0 447.7,342.2 448.0,347.0"/><path d="M438.5,324.6 L448.0,347.0 L459.5,324.6"/>
<path d="M523.0,291.0 C523.5,295.8 525.0,310.2 526.0,320.0 C527.0,329.8 528.5,344.7 529.0,349.6"/><path d="M519.7,328.8 L529.0,349.6 L539.0,328.8"/>
<path d="M551.3,284.8 C555.2,286.5 568.2,291.6 575.0,295.0 C581.8,298.4 587.0,301.0 592.0,305.0 C597.0,309.0 601.9,312.0 605.0,319.0 C608.1,326.0 609.8,342.2 610.8,346.8"/><path d="M599.0,325.0 L610.8,346.8 L621.0,324.0"/>
<path d="M562.5,267.5 C567.1,268.4 581.0,271.0 590.0,273.0 C599.0,275.0 607.4,277.3 616.6,279.6 C625.8,281.9 636.4,283.9 645.0,287.0 C653.6,290.1 662.2,293.5 668.0,298.0 C673.8,302.5 676.9,306.2 680.0,314.0 C683.1,321.8 685.5,339.4 686.6,344.5"/><path d="M671.4,326.0 L686.6,344.5 L692.4,320.5"/>
<path d="M174.6,401.3 C171.3,402.8 160.3,406.9 155.0,410.0 C149.7,413.1 147.1,415.8 143.0,420.0 C138.9,424.2 133.8,430.0 130.5,435.0 C127.2,440.0 124.7,444.5 123.0,450.0 C121.3,455.5 120.9,465.0 120.5,468.0"/><path d="M119.0,444.0 L120.5,468.0 L139.3,450.5"/>
<path d="M259.0,411.4 C254.3,414.1 237.9,422.5 231.0,427.8 C224.1,433.1 220.5,436.0 217.4,443.0 C214.3,450.0 213.2,465.5 212.4,470.0"/><path d="M210.6,446.7 L212.4,470.0 L231.3,453.0"/>
<path d="M283.0,421.5 C283.5,425.4 285.0,437.0 286.0,445.0 C287.0,453.0 288.7,465.2 289.2,469.3"/><path d="M278.0,448.0 L289.2,469.3 L299.3,448.0"/>
<path d="M426.0,411.2 C421.8,414.0 407.3,422.4 400.8,428.0 C394.3,433.6 390.1,437.8 386.8,444.8 C383.5,451.8 382.0,465.8 381.0,470.0"/><path d="M378.4,447.6 L381.0,470.0 L398.0,453.0"/>
<path d="M449.7,416.8 C450.0,421.5 450.9,435.5 451.5,445.0 C452.1,454.5 453.1,469.2 453.4,474.0"/><path d="M442.7,450.4 L453.4,474.0 L463.7,450.4"/>
<path d="M477.0,408.6 C480.4,410.8 490.5,417.4 497.2,421.5 C503.9,425.6 512.5,428.7 517.3,433.0 C522.1,437.3 523.9,440.1 525.8,447.3 C527.7,454.5 528.2,471.2 528.7,476.0"/><path d="M514.4,457.3 L528.7,476.0 L537.3,453.0"/>
<path d="M616.3,425.4 C616.7,429.3 617.8,441.1 618.5,449.0 C619.2,456.9 620.3,468.8 620.7,472.8"/><path d="M609.0,450.7 L620.7,472.8 L632.7,450.7"/>
<path d="M696.0,424.7 C696.4,428.6 697.7,440.2 698.6,448.0 C699.5,455.8 700.8,467.3 701.3,471.2"/><path d="M689.6,449.0 L701.3,471.2 L713.3,449.0"/>
<path d="M719.0,414.3 C724.1,416.4 742.0,422.7 749.7,427.0 C757.5,431.3 761.8,432.6 765.5,440.0 C769.2,447.4 770.8,466.0 771.8,471.2"/><path d="M757.6,455.4 L771.8,471.2 L779.7,449.0"/></g>
<ellipse cx="438" cy="119.6" rx="32.5" ry="32.5" fill="#0000ff" stroke="#000" stroke-width="3.2" />
<ellipse cx="438" cy="119.6" rx="32.5" ry="32.5" fill="none" stroke="#000" stroke-width="5.0" stroke-opacity="0.3"/>
<ellipse cx="438" cy="119.6" rx="32.5" ry="32.5" fill="none" stroke="#000" stroke-width="3.2" />
<ellipse cx="368" cy="253.5" rx="32.5" ry="33.0" fill="#0000ff" stroke="#000" stroke-width="3.2" />
<ellipse cx="368" cy="253.5" rx="32.5" ry="33.0" fill="none" stroke="#000" stroke-width="5.0" stroke-opacity="0.3"/>
<ellipse cx="368" cy="253.5" rx="32.5" ry="33.0" fill="none" stroke="#000" stroke-width="3.2" />
<ellipse cx="442" cy="252" rx="33.0" ry="33.0" fill="#0000ff" stroke="#000" stroke-width="3.2" />
<ellipse cx="442" cy="252" rx="33.0" ry="33.0" fill="none" stroke="#000" stroke-width="5.0" stroke-opacity="0.3"/>
<ellipse cx="442" cy="252" rx="33.0" ry="33.0" fill="none" stroke="#000" stroke-width="3.2" />
<ellipse cx="517.5" cy="253.5" rx="33.0" ry="33.0" fill="#0000ff" stroke="#000" stroke-width="3.2" />
<ellipse cx="517.5" cy="253.5" rx="33.0" ry="33.0" fill="none" stroke="#000" stroke-width="5.0" stroke-opacity="0.3"/>
<ellipse cx="517.5" cy="253.5" rx="33.0" ry="33.0" fill="none" stroke="#000" stroke-width="3.2" />
<ellipse cx="208" cy="385.4" rx="32.5" ry="32.9" fill="none" stroke="#000" stroke-width="3.2" />
<ellipse cx="208" cy="385.4" rx="32.5" ry="32.9" fill="none" stroke="#000" stroke-width="5.0" stroke-opacity="0.3"/>
<ellipse cx="208" cy="385.4" rx="32.5" ry="32.9" fill="none" stroke="#000" stroke-width="3.2" />
<ellipse cx="284" cy="385.7" rx="33.0" ry="33.2" fill="none" stroke="#000" stroke-width="3.2" />
<ellipse cx="284" cy="385.7" rx="33.0" ry="33.2" fill="none" stroke="#000" stroke-width="5.0" stroke-opacity="0.3"/>
<ellipse cx="284" cy="385.7" rx="33.0" ry="33.2" fill="none" stroke="#000" stroke-width="3.2" />
<ellipse cx="365.6" cy="385.7" rx="32.9" ry="32.6" fill="none" stroke="#000" stroke-width="3.2" />
<ellipse cx="365.6" cy="385.7" rx="32.9" ry="32.6" fill="none" stroke="#000" stroke-width="5.0" stroke-opacity="0.3"/>
<ellipse cx="365.6" cy="385.7" rx="32.9" ry="32.6" fill="none" stroke="#000" stroke-width="3.2" />
<ellipse cx="450" cy="384" rx="32.9" ry="32.9" fill="#ff3300" stroke="#000" stroke-width="3.2" />
<ellipse cx="450" cy="384" rx="32.9" ry="32.9" fill="none" stroke="#000" stroke-width="5.0" stroke-opacity="0.3"/>
<ellipse cx="450" cy="384" rx="32.9" ry="32.9" fill="none" stroke="#000" stroke-width="3.2" />
<ellipse cx="533.8" cy="385.6" rx="33.0" ry="33.0" fill="none" stroke="#000" stroke-width="3.2" />
<ellipse cx="533.8" cy="385.6" rx="33.0" ry="33.0" fill="none" stroke="#000" stroke-width="5.0" stroke-opacity="0.3"/>
<ellipse cx="533.8" cy="385.6" rx="33.0" ry="33.0" fill="none" stroke="#000" stroke-width="3.2" />
<ellipse cx="611.8" cy="388" rx="33.0" ry="33.2" fill="none" stroke="#000" stroke-width="3.2" />
<ellipse cx="611.8" cy="388" rx="33.0" ry="33.2" fill="none" stroke="#000" stroke-width="5.0" stroke-opacity="0.3"/>
<ellipse cx="611.8" cy="388" rx="33.0" ry="33.2" fill="none" stroke="#000" stroke-width="3.2" />
<ellipse cx="688" cy="388" rx="33.3" ry="33.2" fill="none" stroke="#000" stroke-width="3.2" />
<ellipse cx="688" cy="388" rx="33.3" ry="33.2" fill="none" stroke="#000" stroke-width="5.0" stroke-opacity="0.3"/>
<ellipse cx="688" cy="388" rx="33.3" ry="33.2" fill="none" stroke="#000" stroke-width="3.2" />
<ellipse cx="120.8" cy="504.8" rx="33.7" ry="33.3" fill="none" stroke="#000" stroke-width="3.2" />
<ellipse cx="120.8" cy="504.8" rx="33.7" ry="33.3" fill="none" stroke="#000" stroke-width="5.0" stroke-opacity="0.3"/>
<ellipse cx="120.8" cy="504.8" rx="33.7" ry="33.3" fill="none" stroke="#000" stroke-width="3.2" />
<ellipse cx="206" cy="505.5" rx="33.5" ry="33.0" fill="none" stroke="#000" stroke-width="3.2" />
<ellipse cx="206" cy="505.5" rx="33.5" ry="33.0" fill="none" stroke="#000" stroke-width="5.0" stroke-opacity="0.3"/>
<ellipse cx="206" cy="505.5" rx="33.5" ry="33.0" fill="none" stroke="#000" stroke-width="3.2" />
<ellipse cx="289.5" cy="503.3" rx="33.0" ry="32.8" fill="none" stroke="#000" stroke-width="3.2" />
<ellipse cx="289.5" cy="503.3" rx="33.0" ry="32.8" fill="none" stroke="#000" stroke-width="5.0" stroke-opacity="0.3"/>
<ellipse cx="289.5" cy="503.3" rx="33.0" ry="32.8" fill="none" stroke="#000" stroke-width="3.2" />
<ellipse cx="373.6" cy="505.8" rx="32.9" ry="32.9" fill="#ff3300" stroke="#000" stroke-width="3.2" />
<ellipse cx="373.6" cy="505.8" rx="32.9" ry="32.9" fill="none" stroke="#000" stroke-width="5.0" stroke-opacity="0.3"/>
<ellipse cx="373.6" cy="505.8" rx="32.9" ry="32.9" fill="none" stroke="#000" stroke-width="3.2" />
<ellipse cx="456" cy="509.6" rx="32.9" ry="32.7" fill="#0000ff" stroke="#000" stroke-width="3.2" />
<ellipse cx="456" cy="509.6" rx="32.9" ry="32.7" fill="none" stroke="#000" stroke-width="5.0" stroke-opacity="0.3"/>
<ellipse cx="456" cy="509.6" rx="32.9" ry="32.7" fill="none" stroke="#000" stroke-width="3.2" />
<ellipse cx="536" cy="511.6" rx="32.9" ry="32.9" fill="#0000ff" stroke="#000" stroke-width="3.2" />
<ellipse cx="536" cy="511.6" rx="32.9" ry="32.9" fill="none" stroke="#000" stroke-width="5.0" stroke-opacity="0.3"/>
<ellipse cx="536" cy="511.6" rx="32.9" ry="32.9" fill="none" stroke="#000" stroke-width="3.2" />
<ellipse cx="618" cy="512" rx="33.0" ry="33.0" fill="none" stroke="#000" stroke-width="3.2" />
<ellipse cx="618" cy="512" rx="33.0" ry="33.0" fill="none" stroke="#000" stroke-width="5.0" stroke-opacity="0.3"/>
<ellipse cx="618" cy="512" rx="33.0" ry="33.0" fill="none" stroke="#000" stroke-width="3.2" />
<ellipse cx="702" cy="510.2" rx="32.9" ry="32.9" fill="none" stroke="#000" stroke-width="3.2" />
<ellipse cx="702" cy="510.2" rx="32.9" ry="32.9" fill="none" stroke="#000" stroke-width="5.0" stroke-opacity="0.3"/>
<ellipse cx="702" cy="510.2" rx="32.9" ry="32.9" fill="none" stroke="#000" stroke-width="3.2" />
<ellipse cx="778.6" cy="510.3" rx="33.1" ry="33.2" fill="none" stroke="#000" stroke-width="3.2" />
<ellipse cx="778.6" cy="510.3" rx="33.1" ry="33.2" fill="none" stroke="#000" stroke-width="5.0" stroke-opacity="0.3"/>
<ellipse cx="778.6" cy="510.3" rx="33.1" ry="33.2" fill="none" stroke="#000" stroke-width="3.2" />
<g fill="none" stroke="#0000ff" stroke-opacity="0.3" stroke-width="5.4" stroke-linecap="round" stroke-linejoin="round"><path d="M530.4,112.5 C528.8,112.4 523.6,111.0 521.0,112.0 C518.4,113.0 515.5,116.2 514.5,118.5 C513.5,120.8 513.8,124.2 515.0,125.5 C516.2,126.8 519.5,127.2 522.0,126.2 C524.5,125.2 528.7,120.6 530.0,119.5"/><path d="M530.4,97.0 C530.5,99.5 530.8,107.2 531.0,112.0 C531.2,116.8 531.5,123.7 531.6,126.0"/><path d="M538.0,105.3 C538.3,105.7 539.3,107.2 539.6,107.6"/><path d="M538.4,115.3 C538.5,117.0 539.1,124.0 539.3,125.8"/><path d="M546.3,126.4 C546.2,125.2 545.6,121.2 545.9,119.1 C546.1,116.9 546.7,114.8 547.8,113.5 C548.9,112.2 550.8,111.2 552.3,111.0 C553.8,110.8 555.4,111.4 556.8,112.5 C558.2,113.6 559.0,117.1 560.6,117.4 C562.2,117.7 564.4,114.9 566.6,114.2 C568.8,113.5 571.2,113.5 574.0,113.3 C576.8,113.1 581.7,113.0 583.2,113.0"/><path d="M569.2,107.0 C569.3,108.7 569.6,113.8 569.8,117.0 C570.0,120.2 570.3,124.8 570.4,126.4"/><path d="M584.7,111.5 C584.6,113.0 583.1,118.5 583.9,120.6 C584.6,122.7 587.5,123.9 589.2,124.3 C591.0,124.7 593.5,123.0 594.4,122.8"/><path d="M599.7,111.5 C598.8,114.3 596.3,122.8 594.4,128.1 C592.5,133.4 589.4,140.6 588.4,143.1"/><path d="M623.3,112.9 C623.2,114.2 621.8,118.9 622.6,121.0 C623.4,123.1 626.0,125.1 628.0,125.4 C630.0,125.7 632.8,125.0 634.5,123.0 C636.2,121.0 637.6,115.2 638.2,113.7"/><path d="M644.8,118.3 C644.7,120.3 643.9,126.7 644.0,130.4 C644.1,134.1 645.4,138.8 645.7,140.5"/><path d="M644.8,118.3 C645.6,117.4 647.6,113.6 649.4,113.0 C651.2,112.4 654.2,113.2 655.5,114.6 C656.8,116.0 657.7,119.6 657.3,121.5 C656.9,123.4 654.8,125.5 653.0,126.2 C651.2,126.9 647.7,125.6 646.6,125.5"/><path d="M667.2,122.0 C666.8,124.4 665.0,134.1 664.6,136.5"/><path d="M697.7,119.4 C699.2,119.3 705.4,119.6 707.0,118.7 C708.6,117.8 708.2,115.4 707.5,114.2 C706.8,113.0 704.7,111.4 702.9,111.5 C701.1,111.6 698.0,113.1 696.5,114.9 C695.0,116.7 693.7,120.1 693.7,122.4 C693.7,124.7 694.7,127.3 696.5,128.7 C698.3,130.1 701.6,130.6 704.4,130.6 C707.2,130.6 711.9,129.1 713.4,128.8"/><path d="M717.9,112.7 C720.1,115.1 729.1,124.5 731.3,126.9"/><path d="M735.8,112.7 C733.8,114.2 727.7,118.7 724.0,121.5 C720.3,124.3 715.2,128.2 713.4,129.6"/><path d="M743.2,117.2 C744.8,117.1 751.0,117.2 752.5,116.4 C754.0,115.7 753.3,113.7 752.5,112.7 C751.7,111.7 749.5,110.5 747.7,110.6 C745.9,110.7 743.4,111.4 741.7,113.4 C740.0,115.4 737.6,119.8 737.6,122.4 C737.6,125.0 739.8,127.5 741.7,128.8 C743.6,130.1 746.2,130.3 749.2,130.2 C752.2,130.1 757.9,128.5 759.6,128.2"/><path d="M771.5,116.1 C770.7,115.3 768.5,112.0 766.7,111.6 C764.9,111.2 762.1,112.1 760.8,113.5 C759.5,114.9 758.5,117.9 758.8,120.0 C759.1,122.1 760.8,124.8 762.5,126.0 C764.2,127.2 767.1,127.2 769.2,127.5 C771.3,127.8 774.0,127.8 775.0,127.8"/><path d="M781.0,113.3 C780.9,114.5 779.7,118.7 780.4,120.7 C781.1,122.7 783.3,125.2 785.2,125.5 C787.1,125.8 790.1,124.1 791.9,122.3 C793.7,120.5 793.8,116.2 796.1,114.8 C798.5,113.4 802.2,114.1 806.0,113.8 C809.8,113.5 816.7,113.2 818.8,113.1"/><path d="M806.6,106.6 C806.7,108.2 807.1,112.7 807.4,116.0 C807.7,119.3 808.1,124.6 808.3,126.3"/><path d="M826.3,119.0 C827.9,118.9 834.4,119.2 836.2,118.2 C838.0,117.2 837.7,114.5 837.0,113.3 C836.3,112.1 834.0,110.9 832.2,110.8 C830.4,110.7 827.9,111.1 826.3,112.5 C824.6,113.9 822.8,116.7 822.3,119.0 C821.8,121.3 821.8,124.5 823.2,126.3 C824.6,128.1 828.2,129.1 830.5,129.5 C832.8,129.9 834.9,129.2 837.2,128.9 C839.6,128.7 843.4,128.2 844.6,128.0"/><path d="M870.4,107.0 C870.5,108.7 870.8,113.7 870.9,117.0 C871.0,120.3 871.2,125.3 871.3,127.0"/><path d="M859.9,116.6 C861.8,116.4 867.2,115.8 871.0,115.5 C874.8,115.2 880.7,114.9 882.6,114.8"/><path d="M906.7,114.8 C906.9,117.2 907.2,124.8 907.6,129.0 C908.0,133.2 909.1,138.4 909.4,140.3"/><path d="M906.7,116.6 C907.9,115.9 911.5,112.4 913.8,112.4 C916.1,112.4 919.6,114.6 920.5,116.6 C921.4,118.6 920.9,123.0 918.9,124.4 C916.9,125.8 910.2,125.1 908.5,125.2"/><path d="M928.2,116.6 C929.3,116.5 933.8,116.3 934.9,116.2"/><path d="M952.7,113.5 C951.4,113.4 947.0,112.2 944.8,113.0 C942.6,113.8 940.2,116.5 939.6,118.6 C939.0,120.7 939.8,124.2 941.3,125.5 C942.8,126.8 946.0,127.1 948.3,126.4 C950.6,125.7 954.1,122.2 955.2,121.3"/><path d="M956.3,96.6 C956.4,99.1 956.9,106.5 957.2,111.5 C957.5,116.5 957.9,123.9 958.0,126.4"/><path d="M985.1,112.6 C985.5,114.8 985.6,124.7 987.3,125.5 C988.9,126.3 992.6,117.5 995.0,117.4 C997.4,117.4 999.1,126.2 1001.4,125.2 C1003.7,124.2 1007.4,113.6 1008.6,111.3"/><path d="M1008.6,111.3 C1008.8,112.4 1009.2,115.8 1009.5,118.0 C1009.8,120.2 1010.2,123.7 1010.4,124.8"/><path d="M1010.4,118.6 C1011.1,117.6 1013.2,113.4 1014.8,112.6 C1016.4,111.8 1018.6,111.2 1020.1,113.5 C1021.6,115.8 1022.9,124.2 1023.5,126.4"/><ellipse cx="893.4" cy="120.1" rx="7.2" ry="6.2" transform="rotate(0 893.4 120.1)"/><ellipse cx="969.4" cy="118.8" rx="6.0" ry="6.8" transform="rotate(0 969.4 118.8)"/></g>
<g fill="none" stroke="#0000ff" stroke-width="3.6" stroke-linecap="round" stroke-linejoin="round"><path d="M530.4,112.5 C528.8,112.4 523.6,111.0 521.0,112.0 C518.4,113.0 515.5,116.2 514.5,118.5 C513.5,120.8 513.8,124.2 515.0,125.5 C516.2,126.8 519.5,127.2 522.0,126.2 C524.5,125.2 528.7,120.6 530.0,119.5"/><path d="M530.4,97.0 C530.5,99.5 530.8,107.2 531.0,112.0 C531.2,116.8 531.5,123.7 531.6,126.0"/><path d="M538.0,105.3 C538.3,105.7 539.3,107.2 539.6,107.6"/><path d="M538.4,115.3 C538.5,117.0 539.1,124.0 539.3,125.8"/><path d="M546.3,126.4 C546.2,125.2 545.6,121.2 545.9,119.1 C546.1,116.9 546.7,114.8 547.8,113.5 C548.9,112.2 550.8,111.2 552.3,111.0 C553.8,110.8 555.4,111.4 556.8,112.5 C558.2,113.6 559.0,117.1 560.6,117.4 C562.2,117.7 564.4,114.9 566.6,114.2 C568.8,113.5 571.2,113.5 574.0,113.3 C576.8,113.1 581.7,113.0 583.2,113.0"/><path d="M569.2,107.0 C569.3,108.7 569.6,113.8 569.8,117.0 C570.0,120.2 570.3,124.8 570.4,126.4"/><path d="M584.7,111.5 C584.6,113.0 583.1,118.5 583.9,120.6 C584.6,122.7 587.5,123.9 589.2,124.3 C591.0,124.7 593.5,123.0 594.4,122.8"/><path d="M599.7,111.5 C598.8,114.3 596.3,122.8 594.4,128.1 C592.5,133.4 589.4,140.6 588.4,143.1"/><path d="M623.3,112.9 C623.2,114.2 621.8,118.9 622.6,121.0 C623.4,123.1 626.0,125.1 628.0,125.4 C630.0,125.7 632.8,125.0 634.5,123.0 C636.2,121.0 637.6,115.2 638.2,113.7"/><path d="M644.8,118.3 C644.7,120.3 643.9,126.7 644.0,130.4 C644.1,134.1 645.4,138.8 645.7,140.5"/><path d="M644.8,118.3 C645.6,117.4 647.6,113.6 649.4,113.0 C651.2,112.4 654.2,113.2 655.5,114.6 C656.8,116.0 657.7,119.6 657.3,121.5 C656.9,123.4 654.8,125.5 653.0,126.2 C651.2,126.9 647.7,125.6 646.6,125.5"/><path d="M667.2,122.0 C666.8,124.4 665.0,134.1 664.6,136.5"/><path d="M697.7,119.4 C699.2,119.3 705.4,119.6 707.0,118.7 C708.6,117.8 708.2,115.4 707.5,114.2 C706.8,113.0 704.7,111.4 702.9,111.5 C701.1,111.6 698.0,113.1 696.5,114.9 C695.0,116.7 693.7,120.1 693.7,122.4 C693.7,124.7 694.7,127.3 696.5,128.7 C698.3,130.1 701.6,130.6 704.4,130.6 C707.2,130.6 711.9,129.1 713.4,128.8"/><path d="M717.9,112.7 C720.1,115.1 729.1,124.5 731.3,126.9"/><path d="M735.8,112.7 C733.8,114.2 727.7,118.7 724.0,121.5 C720.3,124.3 715.2,128.2 713.4,129.6"/><path d="M743.2,117.2 C744.8,117.1 751.0,117.2 752.5,116.4 C754.0,115.7 753.3,113.7 752.5,112.7 C751.7,111.7 749.5,110.5 747.7,110.6 C745.9,110.7 743.4,111.4 741.7,113.4 C740.0,115.4 737.6,119.8 737.6,122.4 C737.6,125.0 739.8,127.5 741.7,128.8 C743.6,130.1 746.2,130.3 749.2,130.2 C752.2,130.1 757.9,128.5 759.6,128.2"/><path d="M771.5,116.1 C770.7,115.3 768.5,112.0 766.7,111.6 C764.9,111.2 762.1,112.1 760.8,113.5 C759.5,114.9 758.5,117.9 758.8,120.0 C759.1,122.1 760.8,124.8 762.5,126.0 C764.2,127.2 767.1,127.2 769.2,127.5 C771.3,127.8 774.0,127.8 775.0,127.8"/><path d="M781.0,113.3 C780.9,114.5 779.7,118.7 780.4,120.7 C781.1,122.7 783.3,125.2 785.2,125.5 C787.1,125.8 790.1,124.1 791.9,122.3 C793.7,120.5 793.8,116.2 796.1,114.8 C798.5,113.4 802.2,114.1 806.0,113.8 C809.8,113.5 816.7,113.2 818.8,113.1"/><path d="M806.6,106.6 C806.7,108.2 807.1,112.7 807.4,116.0 C807.7,119.3 808.1,124.6 808.3,126.3"/><path d="M826.3,119.0 C827.9,118.9 834.4,119.2 836.2,118.2 C838.0,117.2 837.7,114.5 837.0,113.3 C836.3,112.1 834.0,110.9 832.2,110.8 C830.4,110.7 827.9,111.1 826.3,112.5 C824.6,113.9 822.8,116.7 822.3,119.0 C821.8,121.3 821.8,124.5 823.2,126.3 C824.6,128.1 828.2,129.1 830.5,129.5 C832.8,129.9 834.9,129.2 837.2,128.9 C839.6,128.7 843.4,128.2 844.6,128.0"/><path d="M870.4,107.0 C870.5,108.7 870.8,113.7 870.9,117.0 C871.0,120.3 871.2,125.3 871.3,127.0"/><path d="M859.9,116.6 C861.8,116.4 867.2,115.8 871.0,115.5 C874.8,115.2 880.7,114.9 882.6,114.8"/><path d="M906.7,114.8 C906.9,117.2 907.2,124.8 907.6,129.0 C908.0,133.2 909.1,138.4 909.4,140.3"/><path d="M906.7,116.6 C907.9,115.9 911.5,112.4 913.8,112.4 C916.1,112.4 919.6,114.6 920.5,116.6 C921.4,118.6 920.9,123.0 918.9,124.4 C916.9,125.8 910.2,125.1 908.5,125.2"/><path d="M928.2,116.6 C929.3,116.5 933.8,116.3 934.9,116.2"/><path d="M952.7,113.5 C951.4,113.4 947.0,112.2 944.8,113.0 C942.6,113.8 940.2,116.5 939.6,118.6 C939.0,120.7 939.8,124.2 941.3,125.5 C942.8,126.8 946.0,127.1 948.3,126.4 C950.6,125.7 954.1,122.2 955.2,121.3"/><path d="M956.3,96.6 C956.4,99.1 956.9,106.5 957.2,111.5 C957.5,116.5 957.9,123.9 958.0,126.4"/><path d="M985.1,112.6 C985.5,114.8 985.6,124.7 987.3,125.5 C988.9,126.3 992.6,117.5 995.0,117.4 C997.4,117.4 999.1,126.2 1001.4,125.2 C1003.7,124.2 1007.4,113.6 1008.6,111.3"/><path d="M1008.6,111.3 C1008.8,112.4 1009.2,115.8 1009.5,118.0 C1009.8,120.2 1010.2,123.7 1010.4,124.8"/><path d="M1010.4,118.6 C1011.1,117.6 1013.2,113.4 1014.8,112.6 C1016.4,111.8 1018.6,111.2 1020.1,113.5 C1021.6,115.8 1022.9,124.2 1023.5,126.4"/><ellipse cx="893.4" cy="120.1" rx="7.2" ry="6.2" transform="rotate(0 893.4 120.1)"/><ellipse cx="969.4" cy="118.8" rx="6.0" ry="6.8" transform="rotate(0 969.4 118.8)"/></g>
<g fill="none" stroke="#ff1400" stroke-opacity="0.3" stroke-width="5.4" stroke-linecap="round" stroke-linejoin="round"><path d="M260.1,587.4 C260.0,589.3 259.1,595.1 259.4,598.6 C259.7,602.1 261.5,606.6 261.9,608.2"/><path d="M260.1,586.6 C260.9,585.8 262.9,582.3 264.6,581.6 C266.3,580.9 269.2,581.3 270.5,582.3 C271.8,583.3 272.7,585.6 272.6,587.4 C272.5,589.2 271.4,592.1 269.8,593.2 C268.2,594.3 264.2,593.9 263.1,594.0"/><path d="M272.6,587.4 C274.1,586.9 278.8,585.1 281.7,584.4 C284.6,583.7 287.3,583.4 290.0,583.0 C292.7,582.6 296.7,582.4 298.0,582.3"/><path d="M286.2,576.3 C286.3,577.8 286.5,582.0 286.6,585.0 C286.7,588.0 286.8,592.5 286.9,594.0"/><path d="M299.8,574.6 C300.4,574.9 303.0,576.3 303.6,576.6"/><path d="M301.0,583.6 C301.2,584.5 301.7,587.2 302.0,589.0 C302.3,590.8 302.7,593.5 302.8,594.4"/><path d="M309.2,583.6 C309.3,585.4 309.8,592.6 309.9,594.4"/><path d="M310.3,587.1 C311.1,586.4 313.6,583.2 315.1,582.8 C316.6,582.4 318.6,583.1 319.4,584.9 C320.1,586.7 319.6,592.3 319.6,593.8"/><path d="M319.6,587.9 C320.5,587.0 323.4,583.3 324.9,582.8 C326.4,582.3 327.9,583.0 328.6,584.9 C329.3,586.8 329.2,592.8 329.3,594.4"/><path d="M347.2,582.8 C346.2,582.7 343.1,581.5 341.3,582.1 C339.5,582.7 336.9,584.6 336.2,586.4 C335.5,588.2 335.8,591.8 336.9,593.0 C338.0,594.2 341.1,594.2 342.8,593.6 C344.5,593.0 346.1,590.8 347.2,589.3 C348.3,587.8 348.8,584.2 349.5,584.3 C350.2,584.4 350.5,588.4 351.7,590.1 C352.9,591.8 355.9,593.7 356.7,594.4"/><path d="M363.7,562.7 C363.9,565.7 364.5,575.0 364.8,580.4 C365.1,585.8 365.4,592.6 365.5,595.1"/><ellipse cx="241.6" cy="585.1" rx="11.4" ry="7.8" transform="rotate(-14 241.6 585.1)"/></g>
<g fill="none" stroke="#ff1400" stroke-width="3.6" stroke-linecap="round" stroke-linejoin="round"><path d="M260.1,587.4 C260.0,589.3 259.1,595.1 259.4,598.6 C259.7,602.1 261.5,606.6 261.9,608.2"/><path d="M260.1,586.6 C260.9,585.8 262.9,582.3 264.6,581.6 C266.3,580.9 269.2,581.3 270.5,582.3 C271.8,583.3 272.7,585.6 272.6,587.4 C272.5,589.2 271.4,592.1 269.8,593.2 C268.2,594.3 264.2,593.9 263.1,594.0"/><path d="M272.6,587.4 C274.1,586.9 278.8,585.1 281.7,584.4 C284.6,583.7 287.3,583.4 290.0,583.0 C292.7,582.6 296.7,582.4 298.0,582.3"/><path d="M286.2,576.3 C286.3,577.8 286.5,582.0 286.6,585.0 C286.7,588.0 286.8,592.5 286.9,594.0"/><path d="M299.8,574.6 C300.4,574.9 303.0,576.3 303.6,576.6"/><path d="M301.0,583.6 C301.2,584.5 301.7,587.2 302.0,589.0 C302.3,590.8 302.7,593.5 302.8,594.4"/><path d="M309.2,583.6 C309.3,585.4 309.8,592.6 309.9,594.4"/><path d="M310.3,587.1 C311.1,586.4 313.6,583.2 315.1,582.8 C316.6,582.4 318.6,583.1 319.4,584.9 C320.1,586.7 319.6,592.3 319.6,593.8"/><path d="M319.6,587.9 C320.5,587.0 323.4,583.3 324.9,582.8 C326.4,582.3 327.9,583.0 328.6,584.9 C329.3,586.8 329.2,592.8 329.3,594.4"/><path d="M347.2,582.8 C346.2,582.7 343.1,581.5 341.3,582.1 C339.5,582.7 336.9,584.6 336.2,586.4 C335.5,588.2 335.8,591.8 336.9,593.0 C338.0,594.2 341.1,594.2 342.8,593.6 C344.5,593.0 346.1,590.8 347.2,589.3 C348.3,587.8 348.8,584.2 349.5,584.3 C350.2,584.4 350.5,588.4 351.7,590.1 C352.9,591.8 355.9,593.7 356.7,594.4"/><path d="M363.7,562.7 C363.9,565.7 364.5,575.0 364.8,580.4 C365.1,585.8 365.4,592.6 365.5,595.1"/><ellipse cx="241.6" cy="585.1" rx="11.4" ry="7.8" transform="rotate(-14 241.6 585.1)"/></g>
<g fill="none" stroke="#000" stroke-opacity="0.3" stroke-width="5.2" stroke-linecap="round" stroke-linejoin="round"><path d="M609.9,589.8 C610.8,588.2 613.0,583.5 615.0,580.0 C617.0,576.5 620.2,569.3 621.6,569.0 C623.0,568.7 622.9,575.0 623.5,578.0 C624.1,581.0 624.3,587.2 625.4,587.0 C626.5,586.8 628.3,580.3 630.0,577.0 C631.7,573.7 634.8,568.8 635.8,567.1"/><path d="M649.3,577.6 C647.8,577.3 642.6,575.0 640.3,576.0 C638.0,577.0 635.5,581.3 635.3,583.4 C635.0,585.5 637.0,587.9 638.8,588.4 C640.6,588.9 644.3,587.9 646.3,586.3 C648.2,584.7 649.8,580.1 650.5,578.9"/><path d="M650.5,577.4 C650.6,578.5 651.0,582.2 651.3,584.0 C651.6,585.8 651.2,587.5 652.5,588.4 C653.8,589.3 657.9,589.4 659.0,589.6"/><path d="M663.4,567.5 C663.5,567.7 663.8,568.3 663.9,568.5"/><path d="M664.9,574.6 C665.0,575.7 665.4,578.7 665.6,581.0 C665.8,583.3 666.2,587.2 666.3,588.4"/><path d="M671.8,574.6 C673.0,576.8 675.9,588.1 679.1,587.6 C682.3,587.1 688.8,574.3 690.8,571.6"/><path d="M695.5,582.6 C697.8,582.4 707.1,582.3 709.5,581.4 C711.9,580.5 710.9,578.1 710.0,577.0 C709.1,575.9 706.2,574.5 704.0,574.6 C701.8,574.7 698.3,575.9 696.5,577.6 C694.7,579.3 692.9,582.8 693.0,584.9 C693.1,587.0 694.6,589.4 697.0,590.5 C699.4,591.6 704.0,591.4 707.5,591.3 C711.0,591.2 716.0,590.3 717.7,590.1"/><path d="M741.9,569.2 C742.0,570.8 742.2,575.8 742.3,579.0 C742.4,582.2 742.6,587.1 742.7,588.7"/><path d="M733.4,578.5 C734.8,578.4 739.2,578.0 742.0,577.7 C744.8,577.5 749.0,577.1 750.4,577.0"/><path d="M775.2,575.6 C775.6,577.9 776.7,585.3 777.6,589.6 C778.5,593.9 780.0,599.3 780.5,601.3"/><path d="M776.0,578.5 C777.3,577.8 781.5,574.0 783.9,574.0 C786.2,574.0 789.3,576.5 790.1,578.5 C790.9,580.5 790.6,584.4 788.5,585.7 C786.4,587.0 779.4,586.2 777.6,586.3"/><path d="M799.8,577.8 C800.6,577.7 803.7,577.4 804.5,577.3"/><path d="M826.5,576.5 C825.2,576.4 821.1,575.4 818.8,575.6 C816.5,575.8 814.0,576.1 812.7,577.8 C811.4,579.4 810.1,583.8 811.1,585.5 C812.1,587.2 816.2,588.1 818.8,587.9 C821.4,587.7 825.2,584.7 826.5,584.1"/><path d="M827.5,559.7 C827.6,562.1 828.0,569.3 828.3,574.0 C828.6,578.7 829.0,585.6 829.1,587.9"/><path d="M850.5,576.4 C851.0,578.0 851.9,586.1 853.7,586.3 C855.6,586.5 859.5,577.7 861.6,577.8 C863.7,577.9 864.6,587.5 866.4,587.1 C868.2,586.7 871.5,577.5 872.5,575.6"/><path d="M875.9,575.6 C876.0,576.7 876.4,580.0 876.7,582.0 C877.0,584.0 877.4,586.9 877.5,587.9"/><path d="M877.5,581.7 C878.8,580.7 882.8,576.4 885.4,575.6 C888.0,574.8 891.5,575.0 893.1,577.0 C894.7,579.0 894.4,586.1 894.7,587.9"/><ellipse cx="759.3" cy="580.9" rx="6.0" ry="6.6" transform="rotate(0 759.3 580.9)"/><ellipse cx="839.4" cy="581.7" rx="5.2" ry="5.9" transform="rotate(0 839.4 581.7)"/></g>
<g fill="none" stroke="#000" stroke-width="3.4" stroke-linecap="round" stroke-linejoin="round"><path d="M609.9,589.8 C610.8,588.2 613.0,583.5 615.0,580.0 C617.0,576.5 620.2,569.3 621.6,569.0 C623.0,568.7 622.9,575.0 623.5,578.0 C624.1,581.0 624.3,587.2 625.4,587.0 C626.5,586.8 628.3,580.3 630.0,577.0 C631.7,573.7 634.8,568.8 635.8,567.1"/><path d="M649.3,577.6 C647.8,577.3 642.6,575.0 640.3,576.0 C638.0,577.0 635.5,581.3 635.3,583.4 C635.0,585.5 637.0,587.9 638.8,588.4 C640.6,588.9 644.3,587.9 646.3,586.3 C648.2,584.7 649.8,580.1 650.5,578.9"/><path d="M650.5,577.4 C650.6,578.5 651.0,582.2 651.3,584.0 C651.6,585.8 651.2,587.5 652.5,588.4 C653.8,589.3 657.9,589.4 659.0,589.6"/><path d="M663.4,567.5 C663.5,567.7 663.8,568.3 663.9,568.5"/><path d="M664.9,574.6 C665.0,575.7 665.4,578.7 665.6,581.0 C665.8,583.3 666.2,587.2 666.3,588.4"/><path d="M671.8,574.6 C673.0,576.8 675.9,588.1 679.1,587.6 C682.3,587.1 688.8,574.3 690.8,571.6"/><path d="M695.5,582.6 C697.8,582.4 707.1,582.3 709.5,581.4 C711.9,580.5 710.9,578.1 710.0,577.0 C709.1,575.9 706.2,574.5 704.0,574.6 C701.8,574.7 698.3,575.9 696.5,577.6 C694.7,579.3 692.9,582.8 693.0,584.9 C693.1,587.0 694.6,589.4 697.0,590.5 C699.4,591.6 704.0,591.4 707.5,591.3 C711.0,591.2 716.0,590.3 717.7,590.1"/><path d="M741.9,569.2 C742.0,570.8 742.2,575.8 742.3,579.0 C742.4,582.2 742.6,587.1 742.7,588.7"/><path d="M733.4,578.5 C734.8,578.4 739.2,578.0 742.0,577.7 C744.8,577.5 749.0,577.1 750.4,577.0"/><path d="M775.2,575.6 C775.6,577.9 776.7,585.3 777.6,589.6 C778.5,593.9 780.0,599.3 780.5,601.3"/><path d="M776.0,578.5 C777.3,577.8 781.5,574.0 783.9,574.0 C786.2,574.0 789.3,576.5 790.1,578.5 C790.9,580.5 790.6,584.4 788.5,585.7 C786.4,587.0 779.4,586.2 777.6,586.3"/><path d="M799.8,577.8 C800.6,577.7 803.7,577.4 804.5,577.3"/><path d="M826.5,576.5 C825.2,576.4 821.1,575.4 818.8,575.6 C816.5,575.8 814.0,576.1 812.7,577.8 C811.4,579.4 810.1,583.8 811.1,585.5 C812.1,587.2 816.2,588.1 818.8,587.9 C821.4,587.7 825.2,584.7 826.5,584.1"/><path d="M827.5,559.7 C827.6,562.1 828.0,569.3 828.3,574.0 C828.6,578.7 829.0,585.6 829.1,587.9"/><path d="M850.5,576.4 C851.0,578.0 851.9,586.1 853.7,586.3 C855.6,586.5 859.5,577.7 861.6,577.8 C863.7,577.9 864.6,587.5 866.4,587.1 C868.2,586.7 871.5,577.5 872.5,575.6"/><path d="M875.9,575.6 C876.0,576.7 876.4,580.0 876.7,582.0 C877.0,584.0 877.4,586.9 877.5,587.9"/><path d="M877.5,581.7 C878.8,580.7 882.8,576.4 885.4,575.6 C888.0,574.8 891.5,575.0 893.1,577.0 C894.7,579.0 894.4,586.1 894.7,587.9"/><ellipse cx="759.3" cy="580.9" rx="6.0" ry="6.6" transform="rotate(0 759.3 580.9)"/><ellipse cx="839.4" cy="581.7" rx="5.2" ry="5.9" transform="rotate(0 839.4 581.7)"/></g>
</svg>
</div>
</body></html>
